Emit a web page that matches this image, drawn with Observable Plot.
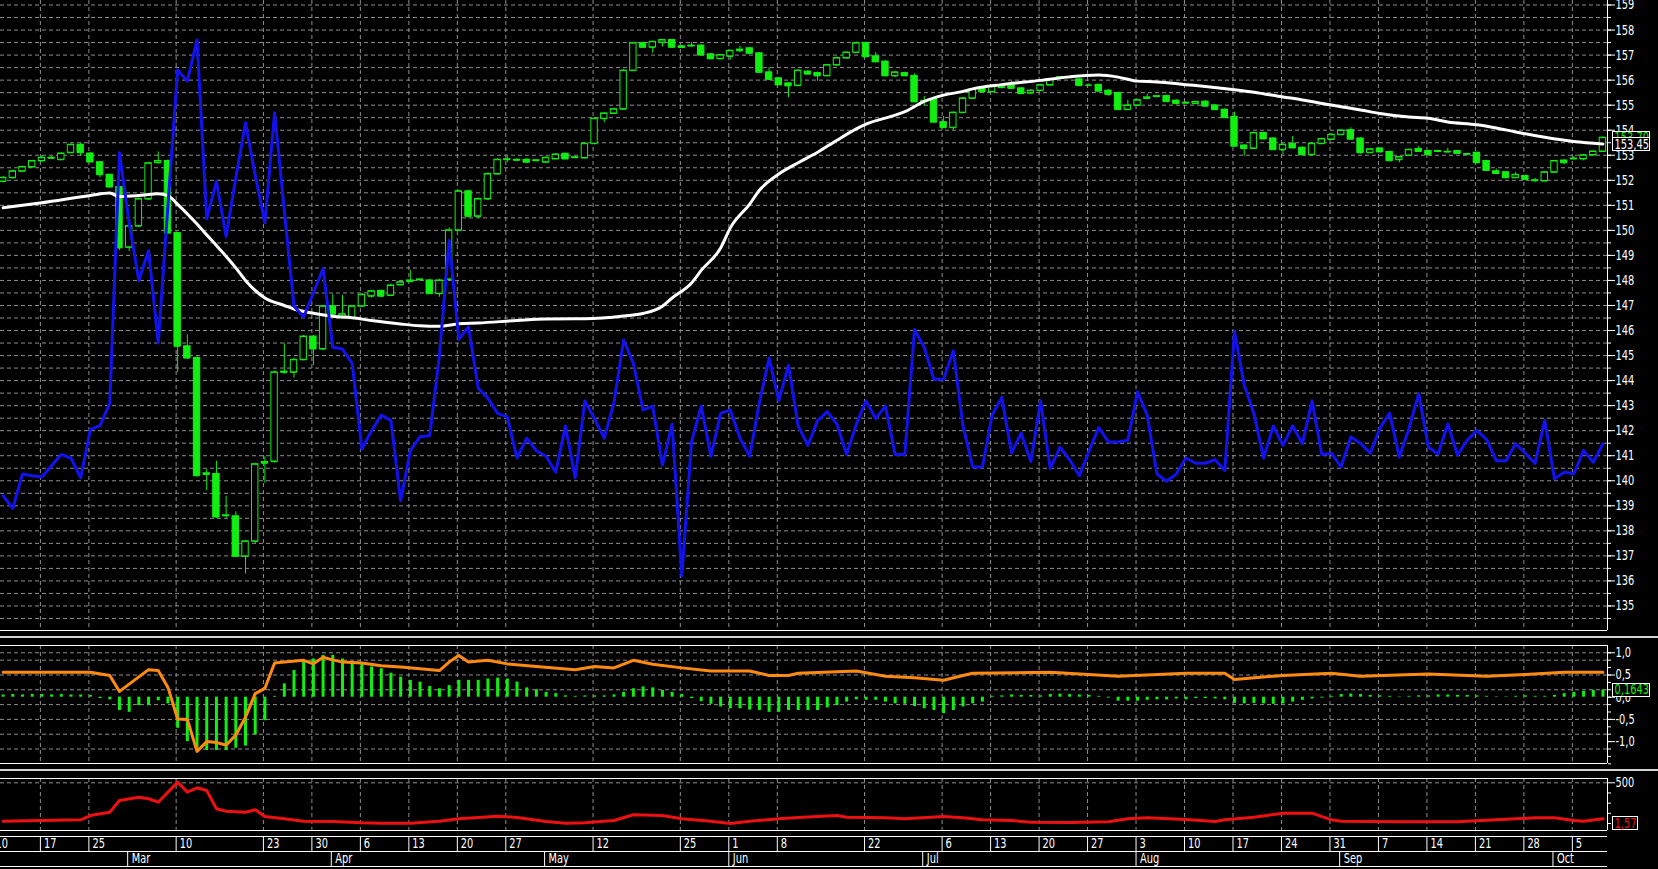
<!DOCTYPE html>
<html><head><meta charset="utf-8">
<script src="https://cdn.jsdelivr.net/npm/d3@7"></script>
<script src="https://cdn.jsdelivr.net/npm/@observablehq/plot@0.6"></script>
<style>
html,body{margin:0;padding:0;background:#000;overflow:hidden}
#chart{position:relative;width:1658px;height:869px;background:#000;overflow:hidden}
#chart svg{position:absolute;left:0;overflow:visible}
.split{position:absolute;left:0;width:1658px;height:2px;background:#d4d4d4}
</style></head><body><div id="chart"></div>
<script>
// ---------- DATA (trading-day index 0..165, Feb 2020 – Oct 2020) ----------
const open = [151.95,152.1,152.36,152.53,152.77,152.88,152.82,153.1,153.42,153.07,
152.72,152.22,151.73,149.32,150.17,151.25,152.7,152.77,149.89,145.37,
144.9,140.25,140.27,138.6,138.58,136.98,137.58,140.7,140.77,144.33,
144.33,144.83,145.76,145.26,146.97,146.55,146.48,146.97,147.37,147.58,
147.4,147.82,147.95,148.02,148.0,147.47,148.04,150.0,151.56,150.56,
151.25,152.25,152.82,152.8,152.82,152.78,152.72,152.85,153.06,152.9,
152.89,153.46,154.46,154.67,154.84,156.38,157.48,157.31,157.5,157.6,
157.35,157.36,157.38,157.03,156.85,156.95,157.17,157.27,157.07,156.31,
156.07,155.87,155.78,156.34,156.28,156.17,156.6,156.88,157.1,157.48,
156.95,156.74,156.17,156.28,156.17,155.15,155.24,154.32,154.1,154.7,
155.27,155.66,155.53,155.72,155.81,155.67,155.48,155.58,155.8,156.08,
156.1,156.03,155.8,155.81,155.58,155.48,154.82,154.99,155.27,155.34,
155.36,155.18,155.08,155.06,155.14,154.99,154.82,154.53,153.39,153.27,
153.89,153.67,153.22,153.45,153.3,153.02,153.46,153.63,153.82,154.0,
153.67,153.1,153.27,153.13,152.82,152.99,153.25,153.17,153.15,153.13,
153.17,153.04,153.1,152.77,152.36,152.32,152.1,152.17,152.0,151.97,
152.32,152.79,152.85,152.85,153.01,153.15];
const high = [152.15,152.4,152.56,152.8,152.98,152.95,153.1,153.45,153.48,153.1,
152.75,152.25,151.76,150.5,151.3,152.72,153.13,152.82,149.92,145.83,
144.95,140.45,140.78,139.38,138.76,137.62,140.7,140.95,144.38,145.47,
144.9,145.8,145.8,147.0,147.43,147.4,147.0,147.47,147.6,147.62,
147.85,147.95,148.4,148.06,148.05,148.05,150.1,151.6,151.6,151.3,
152.3,152.87,152.95,152.85,152.86,152.82,152.95,153.06,153.08,152.95,
153.5,154.5,154.7,154.87,156.42,157.5,157.52,157.56,157.63,157.62,
157.38,157.5,157.42,157.06,157.03,157.2,157.35,157.3,157.1,156.5,
156.1,155.9,156.42,156.38,156.32,156.63,156.92,157.13,157.52,157.52,
157.1,156.78,156.35,156.32,156.25,155.35,155.28,154.55,154.73,155.3,
155.66,155.72,155.77,155.8,155.95,155.7,155.62,155.83,156.06,156.14,
156.13,156.06,155.85,155.84,155.62,155.52,155.2,155.24,155.45,155.38,
155.4,155.22,155.13,155.16,155.18,155.02,154.85,154.72,153.42,153.92,
153.92,153.7,153.45,153.75,153.33,153.49,153.68,153.85,154.02,154.1,
153.7,153.27,153.3,153.16,152.96,153.25,153.35,153.2,153.2,153.28,
153.2,153.08,153.13,152.8,152.45,152.35,152.32,152.2,152.08,152.35,
152.8,152.82,152.95,153.03,153.18,153.73];
const low = [151.9,152.05,152.33,152.5,152.74,152.85,152.8,153.08,152.95,152.7,
152.1,151.7,149.2,149.15,150.1,151.2,152.65,149.85,144.33,144.85,
140.15,139.6,138.5,138.5,136.95,136.27,137.5,139.9,140.7,144.25,
144.1,144.8,144.6,145.2,146.6,146.45,146.45,146.95,147.3,147.33,
147.38,147.8,147.93,148.0,147.45,147.33,148.0,149.95,150.5,150.5,
151.2,152.2,152.7,152.75,152.68,152.74,152.7,152.83,152.83,152.87,
152.86,153.43,154.3,154.64,154.8,156.35,157.28,157.07,157.32,157.29,
157.28,157.33,156.98,156.82,156.82,156.8,157.1,157.04,156.28,156.0,
155.78,155.3,155.75,156.2,155.95,156.14,156.57,156.85,157.07,156.9,
156.7,156.14,156.1,156.14,155.1,154.95,154.29,154.07,154.0,154.66,
155.24,155.5,155.5,155.66,155.64,155.43,155.45,155.55,155.78,156.06,
156.07,155.75,155.77,155.53,155.36,154.79,154.79,154.96,155.24,155.32,
155.11,155.03,155.06,155.03,154.93,154.79,154.47,153.33,152.96,153.24,
153.62,153.19,153.02,153.26,152.99,152.99,153.43,153.6,153.79,153.61,
153.05,153.07,153.1,152.75,152.7,152.96,153.12,152.99,153.12,153.1,
153.04,153.02,152.67,152.36,152.24,152.07,152.07,152.0,151.92,151.94,
152.29,152.62,152.82,152.78,152.98,153.12];
const close = [152.1,152.36,152.53,152.77,152.9,152.9,153.07,153.42,153.1,152.73,
152.22,151.73,149.3,150.17,151.25,152.68,152.77,149.89,145.37,144.9,
140.2,140.3,138.55,138.62,136.98,137.58,140.66,140.75,144.33,144.36,
144.83,145.76,145.26,146.97,146.65,146.65,146.97,147.43,147.57,147.37,
147.8,147.93,148.0,148.04,147.47,148.0,150.0,151.56,150.56,151.25,
152.25,152.82,152.84,152.82,152.72,152.8,152.9,153.03,152.85,152.92,
153.46,154.46,154.67,154.84,156.38,157.48,157.31,157.53,157.6,157.31,
157.3,157.38,157.0,156.85,157.0,157.17,157.22,157.07,156.31,156.03,
155.81,155.77,156.38,156.24,156.17,156.6,156.88,157.1,157.48,156.93,
156.73,156.17,156.31,156.17,155.13,155.17,154.32,154.1,154.7,155.27,
155.63,155.53,155.74,155.7,155.67,155.46,155.58,155.8,156.03,156.12,
156.1,155.78,155.8,155.56,155.43,154.82,154.99,155.2,155.31,155.36,
155.14,155.06,155.1,155.13,154.96,154.82,154.5,153.36,153.27,153.89,
153.65,153.22,153.42,153.29,153.02,153.46,153.65,153.82,153.99,153.64,
153.1,153.24,153.13,152.78,152.93,153.22,153.15,153.02,153.17,153.14,
153.07,153.05,152.7,152.39,152.27,152.1,152.22,152.03,151.98,152.32,
152.77,152.7,152.87,153.0,153.15,153.7];

// blue oscillator (drawn on price scale)
const blue = [139.4,138.9,140.27,140.2,140.15,140.6,141.05,140.9,140.12,142.05,
142.2,143.1,153.1,150.3,148.0,149.2,145.5,151.0,156.4,155.96,
157.6,150.46,151.96,149.75,152.1,154.3,152.2,150.3,154.7,150.8,
146.97,146.54,147.5,148.47,145.33,145.26,144.69,141.27,142.0,142.62,
142.4,139.2,141.2,141.76,141.8,145.0,149.6,145.65,146.15,143.7,
143.3,142.69,142.55,140.91,141.7,141.2,140.98,140.34,142.19,140.12,
143.19,142.48,141.7,143.12,145.62,144.69,142.83,142.98,140.62,142.26,
136.2,141.55,142.98,140.98,142.69,142.83,141.7,140.98,143.12,144.9,
143.19,144.62,142.19,141.41,142.4,142.76,142.26,141.05,142.26,143.19,
142.48,142.98,141.05,141.05,146.04,145.33,144.05,144.05,145.19,142.19,
140.55,140.55,142.62,143.33,141.12,141.9,140.77,143.19,140.48,141.34,
140.84,140.2,141.19,142.12,141.55,141.55,141.62,143.55,142.62,140.27,
139.98,140.27,140.91,140.7,140.7,140.84,140.41,145.97,143.83,142.69,
140.91,142.19,141.41,142.19,141.48,143.19,141.05,141.1,140.55,141.75,
141.5,141.1,142.1,142.7,140.95,142.1,143.48,141.34,141.07,142.27,
141.03,141.62,142.0,141.65,140.8,140.8,141.48,141.1,140.69,142.41,
140.08,140.34,140.28,141.21,140.74,141.48];

// white moving average (sampled)
const maDays = [0,4,9,11,12,14,16,17,18,20,21,22,24,25,27,29,30,32,34,36,38,41,43,45,47,49,53,56,60,64,66,68,69,71,72,74,75,77,78,80,82,84,86,88,89,92,93,95,97,99,100,103,107,110,113,115,117,119,122,124,127,129,132,134,136,138,140,142,145,147,149,152,154,156,159,162,165];
const maVals = [150.9,151.1,151.39,151.49,151.35,151.39,151.46,151.39,151.04,150.25,149.82,149.4,148.5,148.0,147.3,147.0,146.86,146.69,146.57,146.51,146.4,146.26,146.19,146.17,146.27,146.3,146.4,146.46,146.47,146.58,146.68,146.97,147.3,147.9,148.4,149.3,150.1,151.05,151.6,152.25,152.7,153.12,153.6,154.05,154.24,154.6,154.74,155.15,155.4,155.55,155.65,155.82,155.99,156.13,156.2,156.12,155.96,155.93,155.82,155.75,155.62,155.52,155.33,155.21,155.07,154.94,154.81,154.67,154.53,154.48,154.33,154.22,154.09,153.93,153.72,153.55,153.45];

// middle panel: histogram (per day) and orange line (sampled)
const hist = [0.05,0.06,0.05,0.06,0.06,0.05,0.06,0.05,0.05,0.04,
-0.03,-0.06,-0.3,-0.34,-0.19,-0.19,-0.08,-0.15,-0.7,-1.0,
-1.15,-1.2,-1.2,-1.2,-1.15,-1.1,-0.85,-0.53,0.02,0.3,
0.6,0.79,0.86,0.94,0.94,0.86,0.79,0.75,0.68,0.64,
0.54,0.45,0.38,0.34,0.24,0.19,0.26,0.38,0.38,0.38,
0.41,0.43,0.41,0.34,0.21,0.17,0.11,0.08,0.03,0.02,
0.03,0.03,0.03,0.05,0.11,0.19,0.23,0.21,0.15,0.11,
0.06,-0.03,-0.1,-0.16,-0.22,-0.26,-0.26,-0.29,-0.3,-0.34,
-0.34,-0.3,-0.3,-0.3,-0.3,-0.24,-0.19,-0.11,-0.06,-0.07,
-0.07,-0.11,-0.15,-0.16,-0.21,-0.26,-0.3,-0.37,-0.3,-0.22,
-0.15,-0.11,0.02,0.03,0.05,0.04,0.04,0.03,0.06,0.07,
0.06,0.05,0.04,0.02,-0.02,-0.09,-0.09,-0.09,-0.07,-0.06,
-0.06,-0.04,-0.06,-0.03,-0.03,-0.04,-0.06,-0.14,-0.15,-0.14,
-0.15,-0.16,-0.15,-0.11,-0.07,-0.04,-0.02,0.02,0.06,0.07,
0.06,0.04,0.03,0.02,0.01,0.02,0.03,0.03,0.05,0.05,
0.04,0.04,0.03,0.02,0.01,0.01,0.02,0.03,0.02,0.02,
0.04,0.08,0.11,0.13,0.15,0.1643];
const orangeDays = [0,9,11,12,15,16,17,18,19,20,21,22,23,24,25,26,27,28,29,31,32,33,34,35,37,39,41,43,45,46,47,48,50,52,55,59,61,63,65,67,70,73,77,79,81,82,88,91,94,97,99,100,108,115,122,126,127,132,137,140,147,153,157,161,165];
const orangeVals = [0.56,0.56,0.49,0.13,0.62,0.6,0.22,-0.49,-0.5,-1.22,-1.0,-1.02,-1.08,-0.85,-0.45,0.08,0.2,0.77,0.79,0.83,0.75,0.9,0.84,0.79,0.77,0.71,0.68,0.64,0.6,0.79,0.94,0.79,0.83,0.75,0.69,0.62,0.69,0.66,0.83,0.74,0.66,0.59,0.59,0.49,0.49,0.54,0.59,0.47,0.44,0.38,0.49,0.54,0.56,0.47,0.54,0.54,0.4,0.49,0.54,0.47,0.52,0.47,0.51,0.56,0.56];

// bottom panel: red line (sampled)
const redDays = [0,8,9,11,12,14,15,16,18,19,20,21,22,23,25,26,27,29,31,34,37,39,42,45,47,51,53,56,58,60,63,65,68,70,73,75,77,80,82,86,87,91,93,97,99,101,104,106,110,114,116,118,122,125,126,129,132,135,137,138,144,150,154,158,160,162,163,165];
const redVals = [28,45,98,139,283,323,304,262,508,385,439,406,181,151,139,168,86,58,28,25,9,4,4,28,58,90,74,25,4,9,37,107,98,58,28,0,28,58,74,98,77,70,58,86,70,45,37,16,12,21,58,70,49,25,45,77,127,127,45,28,21,21,45,70,70,37,28,58];

// last values shown in the right-hand boxes
const lastClose = 153.70, lastMA = 153.45, lastHist = 0.1643, lastRed = 1.57;

// axes
const priceTicks = d3.range(135, 160);
const p2Ticks = [1, 0.5, 0, -0.5, -1];
const p2Labels = ["1,0", "0,5", "0,0", "-0,5", "-1,0"];
const p3Ticks = [500];
const p3Labels = ["500"];
const dayTicks = [-1,4,9,18,27,32,37,42,47,52,61,70,75,80,89,97,102,107,112,117,122,127,132,137,142,147,152,157,162];
const dayLabels = ["10","17","25","10","23","30","6","13","20","27","12","25","1","8","22","6","13","20","27","3","10","17","24","31","7","14","21","28","5"];
const monthTicks = [13,34,56,75,95,117,138,160];
const monthLabels = ["Mar","Apr","May","Jun","Jul","Aug","Sep","Oct"];

// ---------- RENDER ----------
const FONT = '"Liberation Sans Narrow","DejaVu Sans Condensed","Liberation Sans",sans-serif';
const FS = 14;
const W = 1658, MR = 51;
const XD = [-0.27, 165.47];
const GRID = "#8e8e8e", DASH = "4,3";
const GREEN = "#12ee12", BLUE = "#1212ee", ORANGE = "#ff8a10", RED = "#ee1010";
const chart = document.getElementById("chart");
const style = `background:transparent;color:#fff;font-family:${FONT};font-size:${FS}px;overflow:visible`;
const base = {width: W, marginLeft: 0, marginRight: MR, style, x: {domain: XD, axis: null}};
const comma = (v, n) => v.toFixed(n).replace(".", ",");

const dayIdx = d3.range(open.length);
const candles = dayIdx.map(i => ({i, o: open[i], h: high[i], l: low[i], c: close[i]}));
const up = candles.filter(d => d.c >= d.o), down = candles.filter(d => d.c < d.o);
const bw = 0.33;

function place(svg, top) { svg.style.top = top + "px"; chart.appendChild(svg); return svg; }
function box(svg, yv, text, color, w) {
  const y = svg.scale("y").apply(yv);
  const g = d3.select(svg).append("g").attr("text-anchor", "start");
  g.append("rect").attr("x", W - MR + 5.5).attr("y", Math.round(y - 6.5) + 0.5).attr("width", w).attr("height", 13)
    .attr("fill", "#000").attr("stroke", "#fff");
  g.append("text").attr("x", W - MR + 7.5).attr("y", y).attr("dy", "0.36em").attr("fill", color)
    .attr("text-anchor", "start").attr("font-family", FONT).attr("font-size", FS).text(text);
}

// main panel
const YM = [134.02, 159.18];
const main = Plot.plot({...base, height: 631, marginTop: 0, marginBottom: 1,
  y: {domain: YM, axis: null},
  marks: [
    Plot.ruleY(d3.range(134.5, 159.01, 0.5), {stroke: GRID, strokeDasharray: DASH}),
    Plot.ruleX(dayTicks, {stroke: GRID, strokeDasharray: DASH, dx: -1.5}),
    Plot.ruleX(candles, {x: "i", y1: "l", y2: "h", stroke: GREEN}),
    Plot.rect(down, {x1: d => d.i - bw, x2: d => d.i + bw, y1: "o", y2: "c", fill: GREEN, stroke: GREEN}),
    Plot.rect(up, {x1: d => d.i - bw, x2: d => d.i + bw, y1: "o", y2: "c", fill: "#000", stroke: GREEN}),
    Plot.ruleY(candles, {y: "c", x1: d => d.i - bw, x2: d => d.i + bw, stroke: GREEN}),
    Plot.ruleY(candles, {y: "o", x1: d => d.i - bw, x2: d => d.i + bw, stroke: GREEN}),
    Plot.line(maDays, {x: d => d, y: (d, k) => maVals[k], curve: "monotone-x", stroke: "#fff", strokeWidth: 3}),
    Plot.line(dayIdx, {x: d => d, y: d => blue[d], stroke: BLUE, strokeWidth: 3}),
    Plot.ruleX([XD[1]], {stroke: "#fff"}),
    Plot.ruleY([YM[0]], {stroke: "#fff"}),
    Plot.axisY(d3.range(134.5, 159.01, 0.5), {anchor: "right", tickSize: 3, tickFormat: () => "", stroke: "#fff"}),
    Plot.axisY(priceTicks, {anchor: "right", tickSize: 7, tickPadding: 1, tickFormat: d => String(d), stroke: "#fff", fill: "#fff", fontSize: FS})
  ]});
place(main, 0);
box(main, lastClose, comma(lastClose, 2), GREEN, 37);
box(main, lastMA, comma(lastMA, 2), "#fff", 37);

// splitters
for (const t of [636, 769]) { const d = document.createElement("div"); d.className = "split"; d.style.top = t + "px"; chart.appendChild(d); }

// middle panel
const Y2 = [-1.493, 1.164];
const p2 = Plot.plot({...base, height: 120, marginTop: 1, marginBottom: 1,
  y: {domain: Y2, axis: null},
  marks: [
    Plot.ruleY([1, 5/6, 0.5, 1/6, -1/6, -0.5, -5/6, -7/6], {stroke: GRID, strokeDasharray: DASH}),
    Plot.ruleX(dayTicks, {stroke: GRID, strokeDasharray: DASH, dx: -1.5}),
    Plot.ruleX(dayIdx, {x: d => d, y1: 0, y2: d => hist[d], stroke: GREEN, strokeWidth: 3}),
    Plot.line(orangeDays, {x: d => d, y: (d, k) => orangeVals[k], stroke: ORANGE, strokeWidth: 3}),
    Plot.ruleX([XD[1]], {stroke: "#fff"}),
    Plot.ruleY(Y2, {stroke: "#fff"}),
    Plot.axisY(d3.range(-9, 7).map(k => k / 6), {anchor: "right", tickSize: 3, tickFormat: () => "", stroke: "#fff"}),
    Plot.axisY(p2Ticks, {anchor: "right", tickSize: 7, tickPadding: 1, tickFormat: (d, k) => p2Labels[k], stroke: "#fff", fill: "#fff", fontSize: FS})
  ]});
place(p2, 644);
box(p2, lastHist, comma(lastHist, 4), GREEN, 37);

// bottom panel
const Y3 = [-86, 552.8];
const p3 = Plot.plot({...base, height: 54, marginTop: 1, marginBottom: 1,
  y: {domain: Y3, axis: null},
  marks: [
    Plot.ruleY([500], {stroke: GRID, strokeDasharray: DASH}),
    Plot.ruleX(dayTicks, {stroke: GRID, strokeDasharray: DASH, dx: -1.5}),
    Plot.line(redDays, {x: d => d, y: (d, k) => redVals[k], stroke: RED, strokeWidth: 3}),
    Plot.ruleX([XD[1]], {stroke: "#fff"}),
    Plot.ruleY(Y3, {stroke: "#fff"}),
    Plot.axisY([0, 125, 250, 375], {anchor: "right", tickSize: 3, tickFormat: () => "", stroke: "#fff"}),
    Plot.axisY(p3Ticks, {anchor: "right", tickSize: 7, tickPadding: 1, tickFormat: (d, k) => p3Labels[k], stroke: "#fff", fill: "#fff", fontSize: FS})
  ]});
place(p3, 777);
box(p3, lastRed, comma(lastRed, 2), RED, 25);

// date axis
const dayData = dayTicks.map((d, k) => ({i: d, label: dayLabels[k]}));
const monthData = monthTicks.map((d, k) => ({i: d, label: monthLabels[k]}));
const dates = Plot.plot({...base, height: 34, marginTop: 0, marginBottom: 0,
  y: {domain: [0, 2], range: [1, 31], axis: null},
  marks: [
    Plot.ruleY([0, 1, 2], {x1: XD[0], x2: XD[1], stroke: "#fff"}),
    Plot.ruleX(dayTicks, {y1: 0, y2: 1, stroke: "#fff", dx: -1.5}),
    Plot.ruleX(monthTicks, {y1: 1, y2: 2, stroke: "#fff", dx: -1.5}),
    Plot.text(dayData, {x: "i", y: 0.5, text: "label", textAnchor: "start", dx: 2, fill: "#fff", fontSize: FS}),
    Plot.text(monthData, {x: "i", y: 1.5, text: "label", textAnchor: "start", dx: 2.5, fill: "#fff", fontSize: FS})
  ]});
place(dates, 835);

// narrow the glyphs to match the condensed terminal font
for (const t of chart.querySelectorAll("svg text")) {
  if (!t.textContent) continue;
  const len = t.getComputedTextLength();
  if (len > 0) { t.setAttribute("textLength", (len * 0.78).toFixed(1)); t.setAttribute("lengthAdjust", "spacingAndGlyphs"); }
}
</script></body></html>
